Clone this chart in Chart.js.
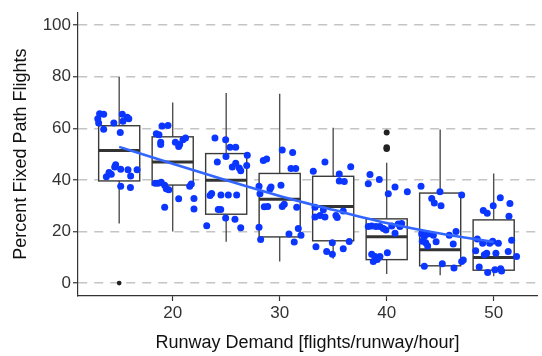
<!DOCTYPE html>
<html>
<head>
<meta charset="utf-8">
<script src="https://cdn.jsdelivr.net/npm/chart.js@4/dist/chart.umd.min.js"></script>
<style>
  html, body { margin: 0; padding: 0; background: #fff; }
  #wrap { width: 542px; height: 356px; }
</style>
</head>
<body>
<div id="wrap"><canvas id="myChart"></canvas></div>
<script>
// box plot groups (runway demand)
const demand = [15, 20, 25, 30, 35, 40, 45, 50];
const whiskerHigh = [80.0, 70.0, 73.7, 73.4, 60.2, 46.6, 59.5, 42.5];
const q3 = [61.0, 56.7, 50.2, 42.5, 41.4, 24.9, 34.9, 24.5];
const median = [51.4, 46.9, 39.9, 32.5, 29.7, 18.0, 12.9, 9.9];
const q1 = [39.6, 38.0, 26.7, 17.9, 16.4, 9.1, 6.7, 5.0];
const whiskerLow = [23.1, 20.0, 16.0, 8.4, 9.4, 3.5, 3.0, 2.7];

// outliers
const outlierX = [15, 40, 40, 40];
const outlierY = [0, 58.4, 52.1, 52.6];

// jittered observations
const jitterX = [
  13.17, 13.55, 13.0, 13.08, 13.55, 14.5, 15.29, 15.74, 15.9, 15.35, 15.1, 14.67, 14.58, 15.14, 15.82, 16.67, 14.05, 14.26, 16.07, 13.8, 15.14, 16.05,
  19.0, 19.56, 18.47, 18.72, 18.88, 18.88, 20.25, 20.65, 20.56, 20.96, 21.2, 18.37, 18.63, 18.93, 19.25, 19.4, 19.63, 21.74, 21.59, 20.56, 21.99, 19.25, 21.99,
  23.95, 24.95, 25.36, 25.89, 24.98, 26.97, 24.17, 25.57, 25.89, 26.22, 26.36, 26.92, 23.49, 23.64, 24.51, 25.2, 25.98, 24.26, 24.49, 24.95, 25.82, 23.18, 26.36,
  30.24, 31.21, 28.47, 28.78, 31.06, 31.5, 30.12, 28.07, 28.16, 29.09, 29.19, 28.56, 28.88, 30.24, 30.43, 31.59, 28.07, 31.74, 30.87, 31.99, 28.22, 31.36,
  34.23, 33.14, 36.64, 35.57, 35.57, 36.04, 33.3, 34.08, 33.3, 33.77, 34.23, 35.26, 35.38, 35.94, 33.39, 34.92, 36.5, 34.39, 34.92, 35.94,
  38.44, 39.31, 38.28, 40.78, 41.93, 40.15, 38.28, 38.6, 39.0, 39.37, 39.68, 39.93, 40.47, 41.08, 41.4, 40.78, 41.24, 38.6, 38.91, 39.37, 38.75, 39.12, 40.06,
  43.21, 44.98, 47.01, 44.21, 44.45, 45.08, 43.27, 43.52, 43.83, 43.33, 43.65, 43.83, 44.36, 44.62, 45.85, 46.48, 46.22, 43.52, 45.2, 46.29, 47.01, 47.16,
  50.62, 51.52, 49.96, 49.03, 49.4, 51.43, 51.68, 49.91, 50.44, 48.97, 48.47, 49.63, 48.32, 49.13, 49.35, 50.21, 51.36, 52.14, 48.65, 49.44, 50.12, 50.65, 50.74
];
const jitterY = [
  65.6, 65.4, 63.7, 62.1, 59.6, 62.1, 65.4, 64.3, 63.7, 62.7, 58.4, 45.9, 45.0, 44.1, 43.9, 43.9, 42.9, 42.2, 41.5, 41.2, 37.5, 37.1,
  60.9, 61.1, 57.9, 57.5, 54.6, 53.7, 54.6, 53.7, 52.9, 55.6, 56.2, 38.7, 38.7, 39.1, 37.9, 36.6, 36.2, 38.4, 37.5, 32.7, 32.8, 29.4, 28.7,
  56.2, 55.6, 52.7, 52.7, 49.1, 49.6, 46.9, 45.0, 46.5, 44.6, 43.5, 45.6, 34.0, 34.7, 34.1, 34.1, 34.1, 28.5, 28.5, 25.2, 24.7, 22.2, 21.5,
  51.6, 50.6, 47.5, 48.1, 44.4, 44.4, 37.9, 37.5, 34.6, 36.5, 37.2, 29.6, 29.7, 29.7, 30.6, 29.4, 21.6, 21.2, 19.0, 18.5, 16.9, 15.9,
  46.9, 43.4, 45.1, 42.3, 39.6, 39.4, 29.4, 28.4, 25.6, 26.2, 25.6, 26.2, 25.4, 27.9, 14.1, 15.6, 16.1, 12.2, 11.2, 13.3,
  42.1, 40.2, 38.5, 37.2, 35.4, 34.6, 21.9, 22.1, 21.9, 21.9, 21.2, 20.6, 22.1, 22.9, 23.1, 19.3, 21.9, 11.2, 10.3, 10.3, 8.4, 9.1, 11.8,
  37.5, 35.4, 34.1, 32.8, 31.0, 30.0, 19.0, 18.1, 19.0, 16.2, 15.6, 14.4, 18.5, 16.0, 18.5, 20.0, 15.2, 6.5, 7.5, 5.9, 8.4, 9.0,
  33.1, 30.9, 30.0, 28.1, 27.1, 25.9, 16.6, 16.2, 15.4, 15.4, 17.1, 15.4, 12.5, 11.0, 11.6, 11.6, 12.2, 10.3, 6.2, 4.1, 5.2, 5.6, 4.7
];

// smoothed trend
const trendX = [15, 20, 25, 30, 35, 40, 45, 50];
const trendY = [52.8, 46.3, 39.9, 33.8, 28.4, 23.3, 19.2, 15.9];

const xTicks = [20, 30, 40, 50];
const yTicks = [0, 20, 40, 60, 80, 100];

const boxHalfWidth = 1.92;

const boxPlugin = {
  id: 'boxes',
  beforeDatasetsDraw(chart) {
    const ctx = chart.ctx;
    const xs = chart.scales.x, ys = chart.scales.y;
    ctx.save();
    demand.forEach((d, i) => {
      const cx = xs.getPixelForValue(d);
      const x0 = xs.getPixelForValue(d - boxHalfWidth);
      const x1 = xs.getPixelForValue(d + boxHalfWidth);
      const yHi = ys.getPixelForValue(whiskerHigh[i]);
      const yQ3 = ys.getPixelForValue(q3[i]);
      const yMed = ys.getPixelForValue(median[i]);
      const yQ1 = ys.getPixelForValue(q1[i]);
      const yLo = ys.getPixelForValue(whiskerLow[i]);
      // whiskers
      ctx.strokeStyle = '#505050';
      ctx.lineWidth = 1.4;
      ctx.beginPath();
      ctx.moveTo(cx, yHi); ctx.lineTo(cx, yQ3);
      ctx.moveTo(cx, yQ1); ctx.lineTo(cx, yLo);
      ctx.stroke();
      // box
      ctx.fillStyle = '#ffffff';
      ctx.fillRect(x0, yQ3, x1 - x0, yQ1 - yQ3);
      ctx.strokeStyle = '#3a3a3a';
      ctx.lineWidth = 1.4;
      ctx.strokeRect(x0, yQ3, x1 - x0, yQ1 - yQ3);
      // median
      ctx.lineWidth = 3;
      ctx.strokeStyle = '#333333';
      ctx.beginPath();
      ctx.moveTo(x0, yMed); ctx.lineTo(x1, yMed);
      ctx.stroke();
    });
    ctx.restore();
  }
};

const config = {
  type: 'scatter',
  data: {
    datasets: [
      {
        label: 'trend',
        data: trendX.map((x, i) => ({x: x, y: trendY[i]})),
        showLine: true,
        borderColor: '#3366ff',
        borderWidth: 2.6,
        pointRadius: 0,
        tension: 0.4,
        cubicInterpolationMode: 'monotone',
        order: 0
      },
      {
        label: 'points',
        data: jitterX.map((x, i) => ({x: x, y: jitterY[i]})),
        backgroundColor: '#0a36ff',
        borderWidth: 0,
        pointRadius: 3.5,
        order: 1
      },
      {
        label: 'outliers',
        data: outlierX.map((x, i) => ({x: x, y: outlierY[i]})),
        backgroundColor: '#222222',
        borderWidth: 0,
        pointRadius: [2.4, 3, 3.2, 3.2],
        order: 2
      }
    ]
  },
  options: {
    responsive: false,
    animation: false,
    layout: { padding: { top: 3, right: 5, left: 0, bottom: 0 } },
    plugins: {
      legend: { display: false },
      tooltip: { enabled: false }
    },
    scales: {
      x: {
        type: 'linear',
        min: 11.15,
        max: 54.05,
        afterBuildTicks: (scale) => { scale.ticks = xTicks.map(v => ({value: v})); },
        afterFit: (scale) => { scale.height = 60; },
        grid: { drawOnChartArea: false, tickLength: 5, tickColor: '#333', tickWidth: 1.2 },
        border: { color: '#333', width: 1.2 },
        ticks: { color: '#333', font: { family: 'Liberation Sans', size: 17 }, padding: 2, maxRotation: 0 },
        title: {
          display: true,
          text: 'Runway Demand [flights/runway/hour]',
          color: '#111',
          font: { family: 'Liberation Sans', size: 18 },
          padding: { top: 0, bottom: 2 }
        }
      },
      y: {
        min: -5,
        max: 105,
        afterBuildTicks: (scale) => { scale.ticks = yTicks.map(v => ({value: v})); },
        afterFit: (scale) => { scale.width = 78; },
        grid: { color: '#c4c4c4', lineWidth: 1.5, tickLength: 5, tickColor: '#333', tickWidth: 1.2 },
        border: { color: '#333', width: 1.2, dash: [9, 7] },
        ticks: { color: '#333', font: { family: 'Liberation Sans', size: 17 }, padding: 2 },
        title: {
          display: true,
          text: 'Percent Fixed Path Flights',
          color: '#111',
          font: { family: 'Liberation Sans', size: 18 },
          padding: { top: 10, bottom: 0 }
        }
      }
    }
  },
  plugins: [boxPlugin]
};

const canvas = document.getElementById('myChart');
canvas.width = 542;
canvas.height = 356;
new Chart(canvas.getContext('2d'), config);
</script>
</body>
</html>
